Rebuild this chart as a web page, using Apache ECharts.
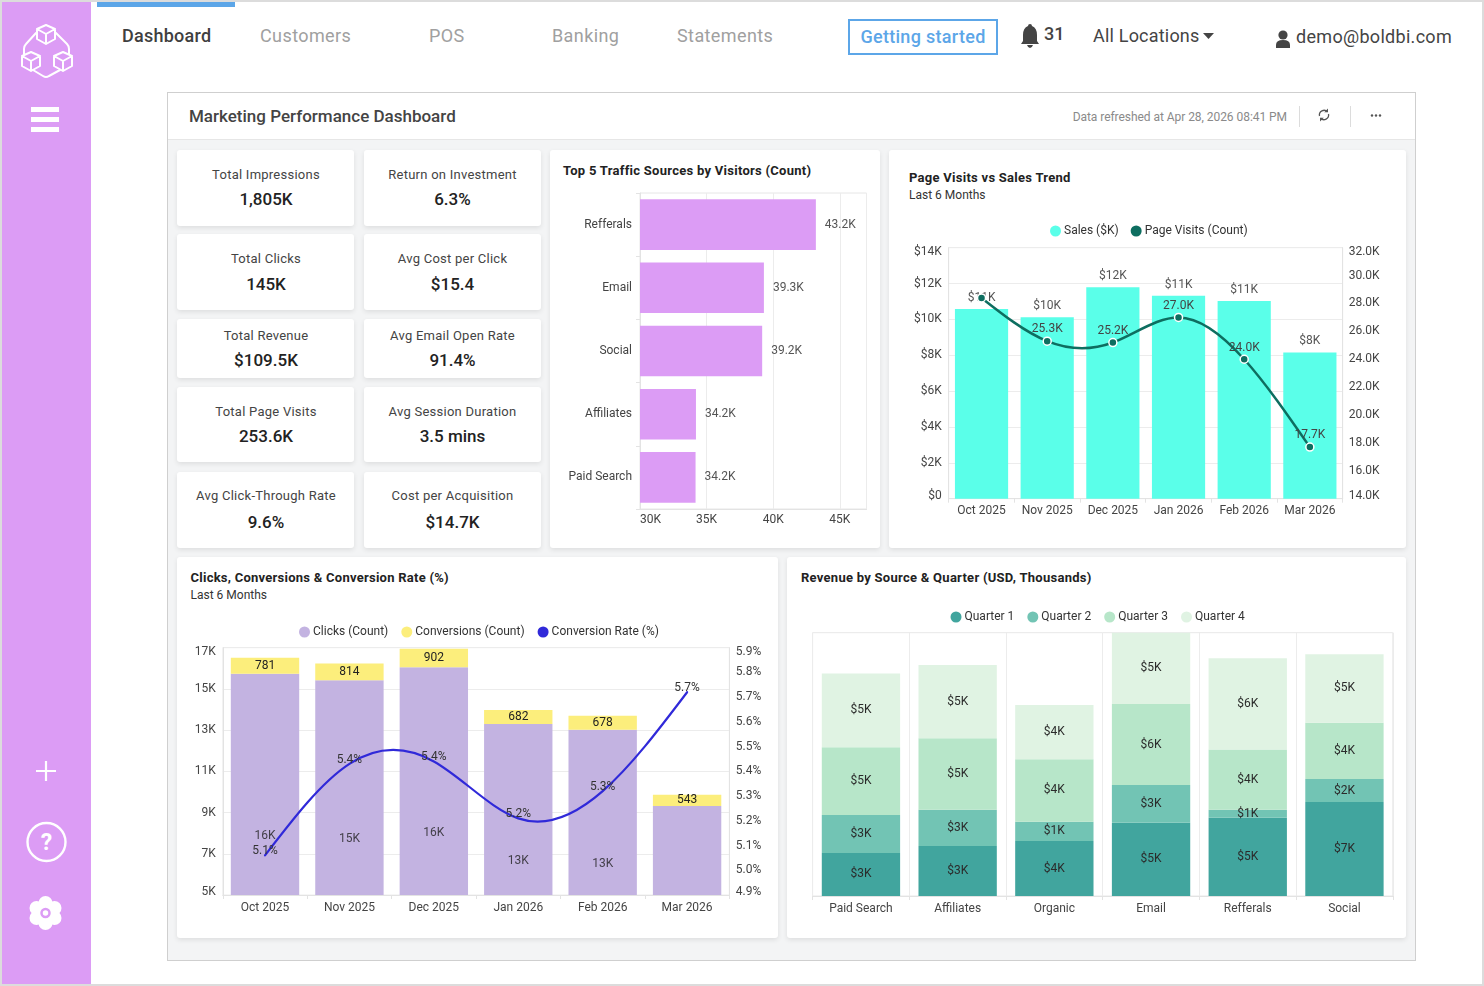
<!DOCTYPE html>
<html><head><meta charset="utf-8">
<script src="https://cdn.jsdelivr.net/npm/echarts@6/dist/echarts.min.js"></script>
<style>
html,body{margin:0;padding:0;background:#fff;width:1484px;height:986px;overflow:hidden;font-family:Roboto,sans-serif}
#page{position:absolute;left:0;top:0;width:1484px;height:986px;overflow:hidden}
.b{position:absolute;box-sizing:border-box}
.card{position:absolute;background:#fff;border-radius:3px;box-shadow:0 2px 5px rgba(0,0,0,.09)}
.t{position:absolute;white-space:nowrap;transform:translateY(-50%);line-height:1.2}
#chart{position:absolute;left:0;top:0;width:1484px;height:986px}
svg{position:absolute;left:0;top:0}
</style></head><body>
<div id="page">
<div class="b" style="left:0;top:0;width:1484px;height:986px;border:2px solid #dcdcdc"></div>
<div class="b" style="left:2px;top:2px;width:89px;height:982px;background:#DC9CF5"></div>
<div class="b" style="left:97px;top:2px;width:138px;height:5px;background:#5CA6E8"></div>
<div class="b" style="left:848px;top:19px;width:150px;height:36px;border:2px solid #5CA6E8"></div>
<div class="b" style="left:167px;top:92px;width:1249px;height:869px;border:1px solid #cfcfcf;background:#f3f4f5"></div>
<div class="b" style="left:168px;top:93px;width:1247px;height:47px;background:#fff;border-bottom:1px solid #e6e6e6"></div>
<div class="b" style="left:1299px;top:106px;width:1px;height:21px;background:#dcdcdc"></div>
<div class="b" style="left:1350px;top:106px;width:1px;height:21px;background:#dcdcdc"></div>
<div id="cards"></div>
<svg id="icons" width="1484" height="986" viewBox="0 0 1484 986">
 <g fill="none" stroke="#fff" stroke-width="2" stroke-linejoin="round" stroke-linecap="round">
  <path d="M36 33 L26 44 Q24 46 24 49 V54 M56 33 L67 44 Q69 46 69 49 V54 M33 70 L43 76 Q46 78 49 76 L60 70"/>
  <path id="cube" d="M46 25 L55 29 V39 L46 44 L37 39 V29 Z M37 29 L46 34 L55 29 M46 34 V44"/>
  <path d="M31 52 L40 56 V66 L31 71 L22 66 V56 Z M22 56 L31 61 L40 56 M31 61 V71"/>
  <path d="M63 52 L72 56 V66 L63 71 L54 66 V56 Z M54 56 L63 61 L72 56 M63 61 V71"/>
 </g>
 <g fill="#fff"><rect x="31" y="107" width="28" height="5"/><rect x="31" y="117" width="28" height="5"/><rect x="31" y="127" width="28" height="5"/></g>
 <path d="M36 771 H56 M46 761 V781" stroke="#fff" stroke-width="2.2"/>
 <circle cx="46.5" cy="842" r="19" fill="none" stroke="#fff" stroke-width="2.4"/>
 <g fill="#fff"><circle cx="45.5" cy="903" r="7"/><circle cx="45.5" cy="923" r="7"/><circle cx="36.5" cy="908" r="7"/><circle cx="54.5" cy="908" r="7"/><circle cx="36.5" cy="918" r="7"/><circle cx="54.5" cy="918" r="7"/><circle cx="45.5" cy="913" r="8"/></g>
 <circle cx="45.5" cy="913" r="4" fill="#fff" stroke="#DC9CF5" stroke-width="2.5"/>
 <path d="M1030 24 q2 0 2 2 q5 2 5 9 v6 l2 3 h-18 l2 -3 v-6 q0 -7 5 -9 q0 -2 2 -2 Z M1027 45 h6 q-1 3 -3 3 t-3 -3Z" fill="#444"/>
 <path d="M1203 33 h11 l-5.5 6 Z" fill="#444"/>
 <circle cx="1283" cy="35" r="4.6" fill="#444"/><path d="M1276 48 v-3 q0 -5 7 -5 t7 5 v3 Z" fill="#444"/>
 <g fill="none" stroke="#555" stroke-width="1.3"><path d="M1319.5 116 a4.7 4.7 0 0 1 8 -4.2 M1328.5 114 a4.7 4.7 0 0 1 -8 4.2"/></g>
 <path d="M1328 108.5 v3.8 h-3.8 Z M1320 121.5 v-3.8 h3.8 Z" fill="#555"/>
 <g fill="#555"><circle cx="1372" cy="115.5" r="1.2"/><circle cx="1376" cy="115.5" r="1.2"/><circle cx="1380" cy="115.5" r="1.2"/></g>
</svg>
<div id="texts"></div>
<div id="chart"></div>
</div>
<script>
// ---------- data ----------
const navItems = ["Customers", "POS", "Banking", "Statements"];
const kpiLeftNames = ["Total Impressions", "Total Clicks", "Total Revenue", "Total Page Visits", "Avg Click-Through Rate"];
const kpiLeftValues = ["1,805K", "145K", "$109.5K", "253.6K", "9.6%"];
const kpiRightNames = ["Return on Investment", "Avg Cost per Click", "Avg Email Open Rate", "Avg Session Duration", "Cost per Acquisition"];
const kpiRightValues = ["6.3%", "$15.4", "91.4%", "3.5 mins", "$14.7K"];

const trafficSources = ["Refferals", "Email", "Social", "Affiliates", "Paid Search"];
const trafficVisitors = [43200, 39300, 39170, 34200, 34170];

const months = ["Oct 2025", "Nov 2025", "Dec 2025", "Jan 2026", "Feb 2026", "Mar 2026"];
const salesK = [10.58, 10.12, 11.8, 11.32, 11.03, 8.16];
const pageVisitsK = [28.4, 25.3, 25.2, 27.0, 24.0, 17.7];

const clicks = [15730, 15420, 16050, 13300, 13020, 9320];
const conversions = [781, 814, 902, 682, 678, 543];
const conversionRate = [5.06, 5.43, 5.44, 5.21, 5.32, 5.72];
const clickTicks = [5000, 7000, 9000, 11000, 13000, 15000, 17000];

const revenueSources = ["Paid Search", "Affiliates", "Organic", "Email", "Refferals", "Social"];
const revenueQ1 = [2.99, 3.47, 3.82, 5.09, 5.44, 6.53];
const revenueQ2 = [2.64, 2.52, 1.34, 2.62, 0.56, 1.6];
const revenueQ3 = [4.7, 4.98, 4.35, 5.63, 4.19, 3.91];
const revenueQ4 = [5.14, 5.09, 3.77, 5.2, 6.34, 4.77];

// ---------- chrome ----------
const cardRects = [[177,150,177,76],[177,234,177,76],[177,319,177,59],[177,387,177,75],[177,472,177,76],
 [364,150,177,76],[364,234,177,76],[364,319,177,59],[364,387,177,75],[364,472,177,76],
 [550,150,330,398],[889,150,517,398],[177,557,601,381],[787,557,619,381]];
document.getElementById('cards').innerHTML = cardRects.map(r =>
 `<div class="card" style="left:${r[0]}px;top:${r[1]}px;width:${r[2]}px;height:${r[3]}px"></div>`).join('');
const texts = [];
function T(s, x, y, size, color, weight, anchor, ls) {
  const tf = anchor === 'c' ? 'translate(-50%,-50%)' : anchor === 'r' ? 'translate(-100%,-50%)' : 'translateY(-50%)';
  texts.push(`<div class="t" style="left:${x}px;top:${y}px;font-size:${size}px;color:${color};font-weight:${weight||400};transform:${tf};letter-spacing:${ls||0}px">${s}</div>`);
}
T("Dashboard", 122, 36, 18, "#3f3f3f", 500, 'l', 0.25);
const navX = [260, 429, 552, 677];
navItems.forEach((n, i) => T(n, navX[i], 36, 18, "#a0a0a0", 400, 'l', 0.4));
T("Getting started", 923, 37, 18, "#5CA6E8", 500, 'c', 0.3);
T("31", 1044, 33.5, 18, "#444", 500);
T("All Locations", 1093, 36, 18, "#444", 400, 'l', 0.2);
T("demo@boldbi.com", 1296, 37, 18, "#444", 400, 'l', 0.3);
T("Marketing Performance Dashboard", 189, 116, 17, "#444", 500, 'l', 0);
T("Data refreshed at Apr 28, 2026 08:41 PM", 1287, 116.5, 12, "#8a8a8a", 400, 'r', -0.05);
T("?", 46.5, 843, 23, "#fff", 700, 'c');
const kpiY = [[174.5,199],[258.5,283.5],[335.5,360],[411.5,436],[496,521.5]];
kpiLeftNames.forEach((n,i)=>{T(n,266,kpiY[i][0],13,"#444",400,'c',0.25);T(kpiLeftValues[i],266,kpiY[i][1],17,"#222",500,'c');});
kpiRightNames.forEach((n,i)=>{T(n,452.5,kpiY[i][0],13,"#444",400,'c',0.25);T(kpiRightValues[i],452.5,kpiY[i][1],17,"#222",500,'c');});
T("Top 5 Traffic Sources by Visitors (Count)",563,171,13,"#222",700,'l',0.27);
T("Page Visits vs Sales Trend",909,178,13,"#222",700,'l',0.27);
T("Last 6 Months",909,195,12,"#333",400);
T("Clicks, Conversions &amp; Conversion Rate (%)",190.5,578,13,"#222",700,'l',0.25);
T("Last 6 Months",190.5,595,12,"#333",400);
T("Revenue by Source &amp; Quarter (USD, Thousands)",801,578,13,"#222",700,'l',0.27);
document.getElementById('texts').innerHTML = texts.join('');

// ---------- chart ----------
const F = 'Roboto';
const GRID = '#ececec';
const axisTxt = {fontFamily:F,fontSize:12,color:'#444'};
const edge = {top:{padding:[8,0,0,0],fontFamily:F,fontSize:12,color:'#444'},bot:{padding:[0,0,6,0],fontFamily:F,fontSize:12,color:'#444'}};
const line = {show:true,lineStyle:{color:'#e3e3e3'}};
const tick = {show:true,length:4,lineStyle:{color:'#e3e3e3'}};
const split = {show:true,lineStyle:{color:GRID}};
const legendText = {fontFamily:F,fontSize:12,color:'#333',padding:[0,0,0,-2]};
function edgeFmt(fmt,lo,hi){return v=>{const s=fmt(v);return Math.abs(v-hi)<1e-6?`{top|${s}}`:Math.abs(v-lo)<1e-6?`{bot|${s}}`:s;};}

// natural cubic spline through the series' axis coordinates (the reference's curve overshoots between points)
function splinePath(p){
 const n=p.length,h=[],M=new Array(n).fill(0),a=new Array(n).fill(0),d=new Array(n).fill(0);
 for(let i=0;i<n-1;i++)h[i]=p[i+1][0]-p[i][0];
 for(let i=1;i<n-1;i++){
  const r=6*((p[i+1][1]-p[i][1])/h[i]-(p[i][1]-p[i-1][1])/h[i-1]);
  const b=2*(h[i-1]+h[i]);
  const w=i>1?h[i-1]/d[i-1]:0;
  d[i]=b-w*(i>1?h[i-1]:0);
  a[i]=r-w*(i>1?a[i-1]:0);
 }
 for(let i=n-2;i>0;i--)M[i]=(a[i]-(i<n-2?h[i]*M[i+1]:0))/d[i];
 let s=`M${p[0][0]} ${p[0][1]}`;
 for(let i=0;i<n-1;i++){
  const k=(p[i+1][1]-p[i][1])/h[i],m0=k-h[i]*(2*M[i]+M[i+1])/6,m1=k+h[i]*(M[i]+2*M[i+1])/6;
  s+=`C${p[i][0]+h[i]/3} ${p[i][1]+m0*h[i]/3} ${p[i+1][0]-h[i]/3} ${p[i+1][1]-m1*h[i]/3} ${p[i+1][0]} ${p[i+1][1]}`;
 }
 return s;
}
function splineSeries(name,values,xi,yi,color,width){
 return {type:'custom',name,coordinateSystem:'cartesian2d',xAxisIndex:xi,yAxisIndex:yi,silent:true,z:4,clip:false,
  data:values.map((v,i)=>[i,v]),
  renderItem:(params,api)=>{
   if(params.dataIndex!==0)return null;
   const pts=values.map((v,i)=>api.coord([i,v]));
   return {type:'path',shape:{pathData:splinePath(pts)},style:{fill:'none',stroke:color,lineWidth:width,lineCap:'round'}};
  }};
}

const option = {
 animation:false,
 backgroundColor:'transparent',
 textStyle:{fontFamily:F},
 grid:[
  {left:640,top:193,width:226.5,height:316,show:true,borderColor:'#e6e6e6',borderWidth:1,backgroundColor:'transparent'},
  {left:948.7,top:247.7,width:394,height:251,show:true,borderColor:'#ededed',borderWidth:1,backgroundColor:'transparent'},
  {left:222.8,top:647.7,width:506.5,height:247.3,show:true,borderColor:'#ededed',borderWidth:1,backgroundColor:'transparent'},
  {left:812.6,top:632.7,width:580.2,height:263.3,show:true,borderColor:'#e8e8e8',borderWidth:1,backgroundColor:'transparent'}
 ],
 legend:[
  {left:1050,top:225,padding:0,itemWidth:11,itemHeight:11,itemGap:12,textStyle:legendText,
   data:[{name:'Sales ($K)',icon:'circle'},{name:'Page Visits (Count)',icon:'circle',itemStyle:{color:'#0E6E60',borderWidth:0}}]},
  {left:299,top:626,padding:0,itemWidth:11,itemHeight:11,itemGap:13,textStyle:legendText,
   data:[{name:'Clicks (Count)',icon:'circle'},{name:'Conversions (Count)',icon:'circle'},{name:'Conversion Rate (%)',icon:'circle',itemStyle:{color:'#3029D9',borderWidth:0}}]},
  {left:950.5,top:611,padding:0,itemWidth:11,itemHeight:11,itemGap:13,textStyle:legendText,
   data:['Quarter 1','Quarter 2','Quarter 3','Quarter 4'].map(n=>({name:n,icon:'circle'}))}
 ],
 xAxis:[
  {gridIndex:0,type:'value',min:30000,max:47000,interval:5000,axisLine:line,axisTick:{show:false},splitLine:split,
   axisLabel:{...axisTxt,margin:5,showMaxLabel:false,alignMinLabel:'left',formatter:v=>(v/1000)+'K'}},
  {gridIndex:1,type:'category',data:months,axisLine:line,axisTick:tick,axisLabel:{...axisTxt,margin:6,interval:0}},
  {gridIndex:2,type:'category',data:months,axisLine:line,axisTick:tick,axisLabel:{...axisTxt,margin:7,interval:0}},
  {gridIndex:3,type:'category',data:revenueSources,axisLine:line,axisTick:tick,splitLine:{show:true,interval:0,lineStyle:{color:GRID}},axisLabel:{...axisTxt,margin:7,interval:0}}
 ],
 yAxis:[
  {gridIndex:0,type:'category',data:trafficSources,inverse:true,axisLine:line,axisTick:tick,axisLabel:{...axisTxt,margin:8}},
  {gridIndex:1,type:'value',min:0,max:14,interval:2,axisLine:line,axisTick:{show:false},splitLine:split,
   axisLabel:{margin:7,...axisTxt,rich:edge,formatter:edgeFmt(v=>v===0?'$0':'$'+v+'K',0,14)}},
  {gridIndex:1,type:'value',position:'right',min:14,max:32,interval:2,axisLine:line,axisTick:{show:false},splitLine:{show:false},
   axisLabel:{margin:6,...axisTxt,rich:edge,formatter:edgeFmt(v=>v.toFixed(1)+'K',14,32)}},
  {gridIndex:2,type:'value',min:5000,max:17000,axisLine:line,axisTick:{show:false,customValues:clickTicks},splitLine:split,
   axisLabel:{margin:7,...axisTxt,rich:edge,customValues:clickTicks,formatter:edgeFmt(v=>(v/1000)+'K',5000,17000)}},
  {gridIndex:2,type:'value',position:'right',min:4.9,max:5.9,interval:0.1,axisLine:line,axisTick:{show:false},splitLine:{show:false},
   axisLabel:{margin:6.5,...axisTxt,rich:edge,formatter:edgeFmt(v=>v.toFixed(1)+'%',4.9,5.9)}},
  {gridIndex:3,type:'value',min:0,max:18.3,show:false,splitLine:{show:false}}
 ],
 series:[
  {type:'bar',name:'Visitors',xAxisIndex:0,yAxisIndex:0,data:trafficVisitors,barWidth:'80%',itemStyle:{color:'#DC9CF5'},
   label:{show:true,position:'right',distance:9,fontFamily:F,fontSize:12,color:'#555',formatter:p=>(p.value/1000).toFixed(1)+'K'}},

  {type:'bar',name:'Sales ($K)',xAxisIndex:1,yAxisIndex:1,data:salesK,barWidth:'81%',itemStyle:{color:'#5AFFE9'},
   label:{show:true,position:'top',distance:5,fontFamily:F,fontSize:12,color:'#555',formatter:p=>'$'+Math.round(p.value)+'K'}},
  splineSeries('Page Visits curve',pageVisitsK,1,2,'#0E6E60',2.5),
  {type:'line',name:'Page Visits (Count)',xAxisIndex:1,yAxisIndex:2,z:5,
   data:pageVisitsK.map((v,i)=>({value:v,label:{show:i!==0}})),
   symbol:'circle',symbolSize:8,lineStyle:{opacity:0},itemStyle:{color:'#0E6E60',borderColor:'#fff',borderWidth:1.5},
   label:{show:true,position:'top',distance:1,fontFamily:F,fontSize:12,color:'#444',formatter:p=>p.value.toFixed(1)+'K'}},

  {type:'bar',name:'Clicks (Count)',xAxisIndex:2,yAxisIndex:3,stack:'c',data:clicks,barWidth:'81%',itemStyle:{color:'#C3B3E1'}},
  {type:'bar',name:'Conversions (Count)',xAxisIndex:2,yAxisIndex:3,stack:'c',data:conversions,barWidth:'81%',itemStyle:{color:'#FCEE7C'},
   label:{show:true,position:'inside',fontFamily:F,fontSize:12,color:'#222'}},
  {type:'scatter',name:'clickLabels',xAxisIndex:2,yAxisIndex:3,symbolSize:0,silent:true,
   data:clicks.map((v,i)=>({value:v/2,label:{show:i!==5,formatter:Math.round(v/1000)+'K'}})),
   label:{show:true,position:'inside',fontFamily:F,fontSize:12,color:'#222'}},
  splineSeries('Conversion Rate curve',conversionRate,2,4,'#3029D9',2.2),
  {type:'line',name:'Conversion Rate (%)',xAxisIndex:2,yAxisIndex:4,z:5,data:conversionRate,symbol:'circle',symbolSize:1,
   lineStyle:{opacity:0},itemStyle:{color:'#3029D9'},
   label:{show:true,position:'inside',offset:[0,-4],fontFamily:F,fontSize:12,color:'#333',formatter:p=>p.value.toFixed(1)+'%'}},

  ...[['Quarter 1',revenueQ1,'#41A59E'],['Quarter 2',revenueQ2,'#72C4B4'],['Quarter 3',revenueQ3,'#B7E6C9'],['Quarter 4',revenueQ4,'#E0F3E3']].map(q=>({
   type:'bar',name:q[0],xAxisIndex:3,yAxisIndex:5,stack:'r',data:q[1],barWidth:'81%',itemStyle:{color:q[2]},
   label:{show:true,position:'inside',fontFamily:F,fontSize:12,color:'#2b2b2b',formatter:p=>'$'+Math.round(p.value)+'K'}}))
 ]
};
echarts.init(document.getElementById('chart'),null,{renderer:'canvas'}).setOption(option);
</script>
</body></html>
